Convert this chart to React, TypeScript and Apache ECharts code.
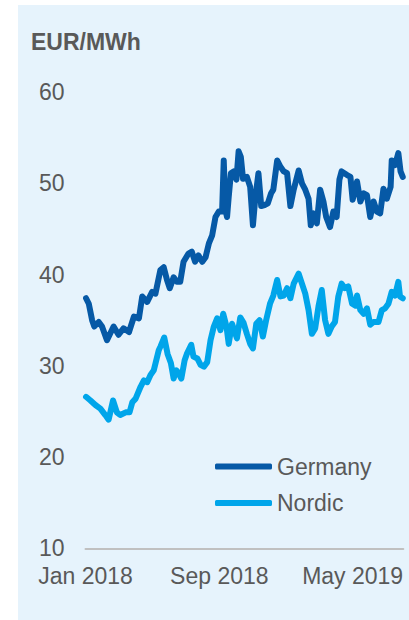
import React, { useEffect, useRef } from "react";
import * as echarts from "echarts";

// Days since 1 Jan 2018
const germanyDays = [1, 6, 12, 16, 24, 30, 39, 51, 60, 69, 79, 88, 97, 103, 112, 121, 127, 136, 142, 148, 153, 160, 166, 172, 178, 187, 193, 199, 205, 212, 218, 224, 230, 236, 242, 248, 251, 254, 257, 260, 264, 269, 274, 278, 282, 286, 293, 299, 304, 308, 314, 319, 325, 331, 337, 341, 348, 354, 360, 366, 372, 378, 387, 393, 399, 405, 409, 414, 420, 426, 432, 437, 444, 450, 456, 461, 465, 475, 481, 485, 493, 499, 505, 511, 517, 523, 529, 535, 541, 547, 554, 556, 562, 568, 572, 576];
const germanyValues = [37.4, 36.8, 35.0, 34.3, 34.8, 34.3, 32.8, 34.3, 33.4, 34.1, 33.7, 35.4, 35.2, 37.6, 37.0, 38.1, 37.9, 40.5, 40.8, 39.4, 38.5, 39.7, 39.2, 39.2, 41.4, 42.3, 42.5, 41.4, 42.1, 41.4, 41.9, 43.4, 44.3, 46.3, 46.9, 46.9, 52.5, 47.1, 46.3, 48.5, 51.1, 51.3, 50.4, 53.5, 52.9, 50.5, 50.7, 49.6, 45.4, 48.2, 51.1, 47.5, 47.6, 47.8, 48.9, 49.3, 52.5, 51.8, 51.3, 51.1, 47.5, 49.3, 51.4, 50.0, 49.3, 48.3, 45.4, 46.7, 45.6, 49.3, 48.0, 46.3, 45.2, 46.9, 46.3, 50.4, 51.3, 50.9, 50.7, 48.2, 50.2, 48.0, 48.9, 48.7, 46.3, 48.0, 46.9, 46.7, 49.4, 48.3, 49.6, 52.5, 52.0, 53.3, 51.3, 50.7];

const nordicDays = [1, 9, 18, 27, 36, 42, 50, 57, 63, 73, 80, 85, 91, 100, 106, 112, 118, 124, 133, 136, 143, 149, 155, 160, 165, 169, 174, 180, 184, 192, 196, 203, 209, 215, 221, 227, 233, 239, 245, 250, 256, 260, 266, 270, 275, 281, 287, 293, 299, 304, 310, 316, 322, 328, 335, 341, 348, 354, 360, 366, 372, 378, 387, 393, 399, 405, 411, 417, 423, 429, 431, 435, 441, 447, 453, 459, 465, 471, 477, 484, 490, 493, 499, 505, 511, 517, 523, 532, 538, 544, 550, 556, 562, 568, 571, 576];
const nordicValues = [26.6, 26.2, 25.7, 25.3, 24.6, 24.1, 26.2, 24.9, 24.6, 24.9, 24.9, 26.0, 26.4, 27.7, 28.4, 28.2, 29.0, 29.5, 31.7, 32.1, 33.1, 31.3, 30.3, 28.6, 29.5, 29.2, 28.6, 30.6, 31.3, 32.3, 31.0, 30.8, 30.1, 29.9, 30.4, 32.8, 34.3, 35.2, 33.9, 35.7, 34.3, 32.4, 34.6, 33.9, 33.0, 35.3, 34.7, 33.5, 32.4, 31.9, 34.6, 35.0, 33.2, 35.0, 36.8, 37.7, 39.4, 37.6, 37.7, 38.5, 37.4, 39.0, 40.1, 39.0, 37.9, 36.1, 33.5, 34.1, 36.5, 38.3, 37.2, 35.0, 33.5, 34.3, 34.8, 37.6, 39.0, 38.5, 38.7, 36.8, 36.6, 37.7, 36.1, 35.7, 36.3, 34.5, 34.8, 34.8, 36.1, 36.3, 36.8, 38.1, 37.7, 39.2, 37.6, 37.4];

// Tick positions (days since 1 Jan 2018) and their labels
const tickDays = [0, 243, 485];
const tickLabels = ["Jan 2018", "Sep 2018", "May 2019"];
const lastDay = 577; // 1 Aug 2019
const seriesNames = ["Germany", "Nordic"];
const unitLabel = "EUR/MWh";

export default function App() {
  const ref = useRef<HTMLDivElement>(null);
  useEffect(() => {
    if (!ref.current) return;
    const chart = echarts.init(ref.current, null, { renderer: "svg" });
    const font = "Arial, 'Liberation Sans', sans-serif";
    chart.setOption({
      animation: false,
      backgroundColor: "#ffffff",
      graphic: [
        {
          type: "rect",
          z: -10,
          shape: { x: 18, y: 5, width: 391, height: 615 },
          style: { fill: "#e6f3fc" },
          silent: true,
        },
        {
          type: "text",
          left: 31,
          top: 30,
          style: {
            text: unitLabel,
            fill: "#595959",
            font: `bold 23px ${font}`,
          },
        },
      ],
      grid: { left: 85.5, right: 5.7, top: 92, bottom: 71.7, containLabel: false },
      legend: {
        orient: "vertical",
        left: 215,
        top: 455,
        padding: 0,
        itemWidth: 57,
        itemHeight: 6,
        itemGap: 13.5,
        icon: "roundRect",
        textStyle: { fontSize: 23, color: "#595959", fontFamily: font },
        data: seriesNames,
      },
      xAxis: {
        type: "value",
        min: 0,
        max: lastDay,
        axisLine: { show: true, lineStyle: { color: "#c0c0c0", width: 2 } },
        axisTick: { show: false },
        splitLine: { show: false },
        axisLabel: {
          customValues: tickDays,
          formatter: (v: number) => tickLabels[tickDays.indexOf(v)] ?? "",
          fontSize: 23,
          color: "#595959",
          fontFamily: font,
          margin: 16,
          hideOverlap: false,
        },
      },
      yAxis: {
        type: "value",
        min: 10,
        max: 60,
        interval: 10,
        axisLine: { show: false },
        axisTick: { show: false },
        splitLine: { show: false },
        axisLabel: { fontSize: 23, color: "#595959", fontFamily: font, margin: 21 },
      },
      series: [
        {
          name: seriesNames[0],
          type: "line",
          symbol: "none",
          color: "#0659a6",
          lineStyle: { width: 6, color: "#0659a6", cap: "round", join: "round" },
          data: germanyDays.map((d, i) => [d, germanyValues[i]]),
        },
        {
          name: seriesNames[1],
          type: "line",
          symbol: "none",
          color: "#00a5ea",
          lineStyle: { width: 6, color: "#00a5ea", cap: "round", join: "round" },
          data: nordicDays.map((d, i) => [d, nordicValues[i]]),
        },
      ],
    });
    return () => chart.dispose();
  }, []);
  return (
    <div
      ref={ref}
      style={{ position: "absolute", left: 0, top: 0, width: 409, height: 620 }}
    />
  );
}
